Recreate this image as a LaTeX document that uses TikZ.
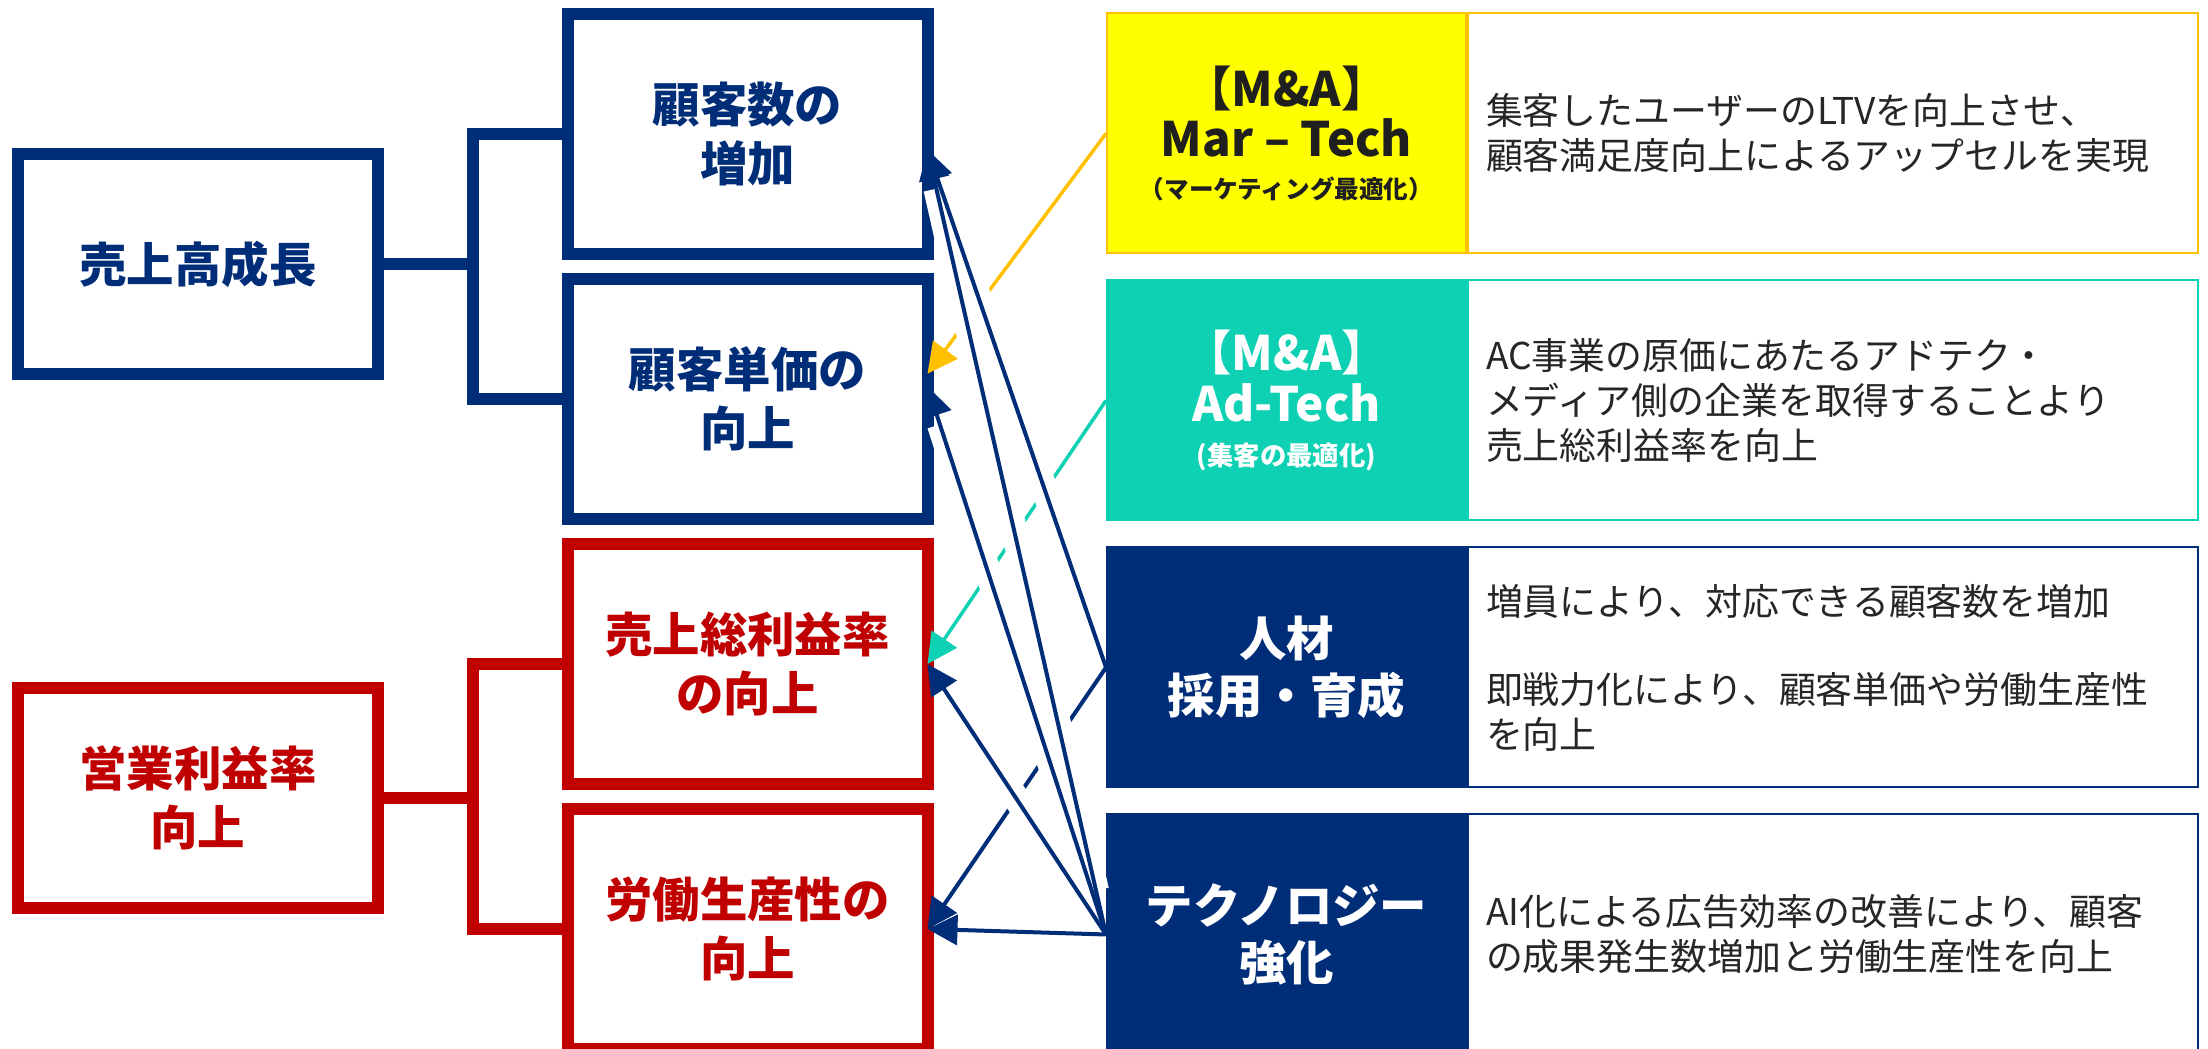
\documentclass[tikz,border=0pt]{standalone}
\usepackage{fontspec}
\setmainfont{Noto Sans CJK JP}
\definecolor{kpinavy}{RGB}{0,45,120}
\definecolor{kpired}{RGB}{192,0,0}
\definecolor{mayellow}{RGB}{255,255,0}
\definecolor{maorange}{RGB}{255,192,0}
\definecolor{adteal}{RGB}{13,209,178}
\definecolor{txtgray}{RGB}{38,38,38}
\usetikzlibrary{positioning}
\usetikzlibrary{arrows.meta}
\tikzset{
  kpibox/.style={draw=#1, text=#1, fill=white, line width=0.12cm, outer sep=0pt, inner sep=0pt,
    minimum width=3.6cm, minimum height=2.4cm, align=center,
    font=\bfseries\fontsize{13.5}{16.8}\selectfont},
  kpitree/.style={draw=#1, line width=0.12cm},
  lever/.style={fill=#1, draw=#1, line width=0.02cm, minimum width=3.59cm, minimum height=2.4cm,
    inner sep=0pt, align=center, text=white, font=\bfseries\fontsize{13.5}{16.2}\selectfont},
  leverdesc/.style={draw=#1, line width=0.02cm, minimum height=2.4cm, text width=6.94cm,
    inner xsep=0.18cm, align=left, text=txtgray, font=\fontsize{10.5}{12.8}\selectfont},
  link/.style={draw=#1, line width=0.04cm, -{Triangle[length=0.3cm,width=0.3cm]}},
  halo/.style={draw=white, line width=0.26cm, shorten <=0.45cm, shorten >=0.4cm},
}

\begin{document}
\begin{tikzpicture}
  \useasboundingbox (0,0) rectangle (22.08,-10.49);

  \node [kpibox=kpinavy, minimum height=2.2cm] (sales) at (1.98,-2.64) {売上高成長};
  \node [kpibox=kpinavy] (cust) at (7.475,-1.34) {顧客数の\\増加};
  \node [kpibox=kpinavy, below=0.25 of cust] (price) {顧客単価の\\向上};

  \node [kpibox=kpired, minimum height=2.2cm] (opm) at (1.98,-7.98) {営業利益率\\向上};
  \node [kpibox=kpired, below=0.25 of price] (gpm) {売上総利益率\\の向上};
  \node [kpibox=kpired, below=0.25 of gpm] (labor) {労働生産性の\\向上};

  \draw [kpitree=kpinavy] (sales.east) -- ++(0.95,0) |- (cust.west);
  \draw [kpitree=kpinavy] (sales.east) -- ++(0.95,0) |- (price.west);
  \draw [kpitree=kpired] (opm.east) -- ++(0.95,0) |- (gpm.west);
  \draw [kpitree=kpired] (opm.east) -- ++(0.95,0) |- (labor.west);

  \node [lever=mayellow, draw=maorange, text=black!88, font=\bfseries\fontsize{13.5}{14.2}\selectfont]
    (mar) at (12.865,-1.335)
    {【M\&A】\\Mar – Tech\\[-2pt]{\fontsize{7}{9}\selectfont （マーケティング最適化）}};
  \node [leverdesc=maorange, right=0 of mar] (mardesc)
    {集客したユーザーのLTVを向上させ、\\顧客満足度向上によるアップセルを実現};

  \node [lever=adteal, below=0.25 of mar, font=\bfseries\fontsize{13.5}{14.6}\selectfont] (ad)
    {【M\&A】\\Ad-Tech\\[-2pt]{\fontsize{7.5}{9}\selectfont (集客の最適化)}};
  \node [leverdesc=adteal, right=0 of ad] (addesc)
    {AC事業の原価にあたるアドテク・\\メディア側の企業を取得することより\\売上総利益率を向上};

  \node [lever=kpinavy, below=0.25 of ad] (hr) {人材\\採用・育成};
  \node [leverdesc=kpinavy, right=0 of hr] (hrdesc)
    {増員により、対応できる顧客数を増加\\[0.43cm]即戦力化により、顧客単価や労働生産性\\を向上};

  \node [lever=kpinavy, below=0.25 of hr] (tech) {テクノロジー\\強化};
  \node [leverdesc=kpinavy, right=0 of tech] (techdesc)
    {AI化による広告効率の改善により、顧客\\の成果発生数増加と労働生産性を向上};

  \draw [link=maorange, line width=0.035cm] (mar.west) -- (price.8);
  \draw [link=adteal, line width=0.035cm] (ad.west) -- (gpm.east);
  \draw [link=kpinavy] (hr.west) -- (labor.east);

  \foreach \src/\dst in {hr/cust.-5, tech/cust.-5, tech/price.4, tech/gpm.east, tech/labor.east}
    \draw [halo] (\src.west) -- (\dst);
  \foreach \src/\dst in {hr/cust.-5, tech/cust.-5, tech/price.4, tech/gpm.east, tech/labor.east}
    \draw [link=kpinavy] (\src.west) -- (\dst);

\end{tikzpicture}
\end{document}
